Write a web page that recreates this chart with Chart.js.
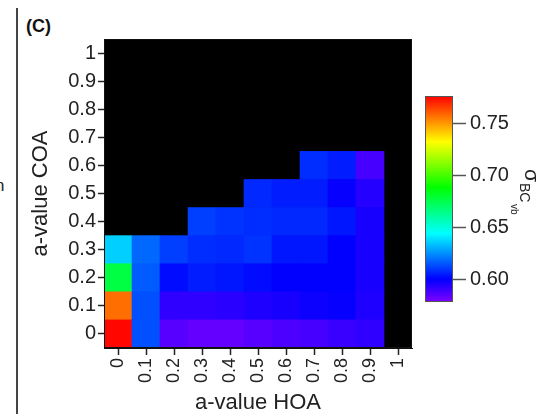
<!DOCTYPE html>
<html>
<head>
<meta charset="utf-8">
<script src="https://cdn.jsdelivr.net/npm/chart.js@4.4.1/dist/chart.umd.min.js"></script>
<style>
  html, body { margin: 0; padding: 0; background: #fff; width: 541px; height: 414px; overflow: hidden; }
  body { font-family: "Liberation Sans", Arial, sans-serif; }
  #wrap { position: relative; width: 541px; height: 414px; }
  #main { position: absolute; left: 0; top: 0; }
  #cbar { position: absolute; left: 400px; top: 80px; }
  #panel { position: absolute; left: 26px; top: 17px; font-weight: bold; font-size: 18px; line-height: 1; color: #111; }
  #divider { position: absolute; left: 16px; top: 8px; width: 1.5px; height: 406px; background: #444; }
  #frag { position: absolute; left: -5px; top: 176px; font-size: 17px; color: #222; }
</style>
</head>
<body>
<div id="wrap">
  <div id="divider"></div>
  <div id="frag">n</div>
  <div id="panel">(C)</div>
  <canvas id="main" width="541" height="414"></canvas>
  <canvas id="cbar" width="141" height="240"></canvas>
</div>
<script>
// ejes: a-value HOA (x) y a-value COA (y)
const hoaLabels = ['0', '0.1', '0.2', '0.3', '0.4', '0.5', '0.6', '0.7', '0.8', '0.9', '1'];
const coaLevels = [0, 0.1, 0.2, 0.3, 0.4, 0.5, 0.6, 0.7, 0.8, 0.9, 1];

// sigma BCvb por fila de COA (null = celda negra, sin solucion)
const sigmaCoa00 = [0.776, 0.614, 0.585, 0.583, 0.583, 0.585, 0.587, 0.588, 0.590, 0.592, null];
const sigmaCoa01 = [0.758, 0.614, 0.592, 0.592, 0.593, 0.595, 0.596, 0.598, 0.599, 0.595, null];
const sigmaCoa02 = [0.677, 0.616, 0.602, 0.605, 0.604, 0.602, 0.600, 0.600, 0.600, 0.596, null];
const sigmaCoa03 = [0.636, 0.618, 0.611, 0.608, 0.607, 0.609, 0.604, 0.604, 0.600, 0.596, null];
const sigmaCoa04 = [null, null, null, 0.611, 0.609, 0.608, 0.607, 0.607, 0.604, 0.596, null];
const sigmaCoa05 = [null, null, null, null, null, 0.607, 0.605, 0.605, 0.599, 0.594, null];
const sigmaCoa06 = [null, null, null, null, null, null, null, 0.608, 0.605, 0.588, null];
const sigmaCoa07 = [null, null, null, null, null, null, null, null, null, null, null];
const sigmaCoa08 = [null, null, null, null, null, null, null, null, null, null, null];
const sigmaCoa09 = [null, null, null, null, null, null, null, null, null, null, null];
const sigmaCoa10 = [null, null, null, null, null, null, null, null, null, null, null];
const sigmaRows = [sigmaCoa00, sigmaCoa01, sigmaCoa02, sigmaCoa03, sigmaCoa04, sigmaCoa05,
                   sigmaCoa06, sigmaCoa07, sigmaCoa08, sigmaCoa09, sigmaCoa10];

// escala de color
const cbMin = 0.578;
const cbMax = 0.777;
const cbTicks = [0.60, 0.65, 0.70, 0.75];

function sigmaColor(v) {
  let t = (cbMax - v) / (cbMax - cbMin);
  t = Math.max(0, Math.min(1, t));
  return `hsl(${t * 270}, 100%, 50%)`;
}

const FONT = '"Liberation Sans", Arial, sans-serif';
const half = 0.05;

const datasets = sigmaRows.map((row, i) => ({
  label: 'COA ' + coaLevels[i],
  data: row.map(v => v == null ? null : [coaLevels[i] - half, coaLevels[i] + half]),
  backgroundColor: row.map(v => v == null ? 'rgba(0,0,0,0)' : sigmaColor(v)),
  borderWidth: 0,
  grouped: false,
  barPercentage: 1,
  categoryPercentage: 1
}));

// fondo negro + marco del area
const plotFrame = {
  id: 'plotFrame',
  beforeDatasetsDraw(chart) {
    const { ctx, chartArea: a } = chart;
    ctx.save();
    ctx.fillStyle = '#000';
    ctx.fillRect(a.left, a.top, a.right - a.left, a.bottom - a.top);
    ctx.restore();
  },
  afterDraw(chart) {
    const { ctx, chartArea: a } = chart;
    ctx.save();
    ctx.strokeStyle = '#111';
    ctx.lineWidth = 1;
    ctx.strokeRect(a.left + 0.5, a.top + 0.5, a.right - a.left - 1, a.bottom - a.top - 1);
    ctx.restore();
  }
};

new Chart(document.getElementById('main').getContext('2d'), {
  type: 'bar',
  data: { labels: hoaLabels, datasets: datasets },
  options: {
    responsive: false,
    animation: false,
    layout: { padding: { left: 0, top: 39, right: 129, bottom: 0 } },
    plugins: { legend: { display: false }, tooltip: { enabled: false } },
    scales: {
      x: {
        type: 'category',
        afterFit: s => { s.height = 66; },
        grid: { offset: false, drawOnChartArea: false, tickLength: 7, tickColor: '#222', tickWidth: 1.5 },
        border: { display: true, color: '#111' },
        ticks: { autoSkip: false, minRotation: 90, maxRotation: 90, padding: 3, color: '#222',
                 font: { family: FONT, size: 18 } },
        title: { display: true, text: 'a-value HOA', color: '#222', padding: 0,
                 font: { family: FONT, size: 22, lineHeight: 1 } }
      },
      y: {
        type: 'linear',
        min: -0.05,
        max: 1.05,
        afterFit: s => { s.width = 104; },
        afterBuildTicks: s => { s.ticks = coaLevels.map(v => ({ value: v })); },
        grid: { drawOnChartArea: false, tickLength: 6, tickColor: '#222', tickWidth: 1.5 },
        border: { display: true, color: '#111' },
        ticks: { padding: 2, color: '#222', font: { family: FONT, size: 20 },
                 callback: v => (v === 0 || v === 1) ? String(v) : v.toFixed(1) },
        title: { display: true, text: 'a-value COA', color: '#222', padding: { top: 30, bottom: 0 },
                 font: { family: FONT, size: 22, lineHeight: 1 } }
      }
    }
  },
  plugins: [plotFrame]
});

// barra de color
const cbLabel = {
  id: 'cbLabel',
  afterDraw(chart) {
    const { ctx, chartArea: a } = chart;
    ctx.save();
    ctx.strokeStyle = '#555';
    ctx.lineWidth = 1;
    ctx.strokeRect(a.left + 0.5, a.top + 0.5, a.right - a.left - 1, a.bottom - a.top - 1);
    ctx.fillStyle = '#222';
    const put = (txt, size, x, y) => {
      ctx.save();
      ctx.translate(x, y);
      ctx.rotate(Math.PI / 2);
      ctx.font = `${size}px ${FONT}`;
      ctx.textBaseline = 'alphabetic';
      ctx.fillText(txt, 0, 0);
      ctx.restore();
    };
    put('\u03C3', 21, 125, 89);
    put('BC', 14, 120, 103);
    put('vb', 10, 111, 124);
    ctx.restore();
  }
};

new Chart(document.getElementById('cbar').getContext('2d'), {
  type: 'bar',
  data: {
    labels: [''],
    datasets: [{
      data: [[cbMin, cbMax]],
      borderWidth: 0,
      barPercentage: 1,
      categoryPercentage: 1,
      backgroundColor: c => {
        const chart = c.chart;
        if (!chart.chartArea) return '#f00';
        const ys = chart.scales.y;
        const g = chart.ctx.createLinearGradient(0, ys.getPixelForValue(cbMin), 0, ys.getPixelForValue(cbMax));
        for (let i = 0; i <= 27; i++) {
          const t = i / 27;
          g.addColorStop(t, sigmaColor(cbMin + t * (cbMax - cbMin)));
        }
        return g;
      }
    }]
  },
  options: {
    responsive: false,
    animation: false,
    layout: { padding: { left: 25, top: 13, right: 0, bottom: 18 } },
    plugins: { legend: { display: false }, tooltip: { enabled: false } },
    scales: {
      x: { display: false },
      y: {
        position: 'right',
        min: cbMin,
        max: cbMax,
        afterFit: s => { s.width = 88; },
        afterBuildTicks: s => { s.ticks = cbTicks.map(v => ({ value: v })); },
        grid: { drawOnChartArea: false, tickLength: 13, tickColor: '#555', tickWidth: 1.5 },
        border: { display: false },
        ticks: { padding: 4, color: '#222', font: { family: FONT, size: 20 },
                 callback: v => v.toFixed(2) }
      }
    }
  },
  plugins: [cbLabel]
});
</script>
</body>
</html>
